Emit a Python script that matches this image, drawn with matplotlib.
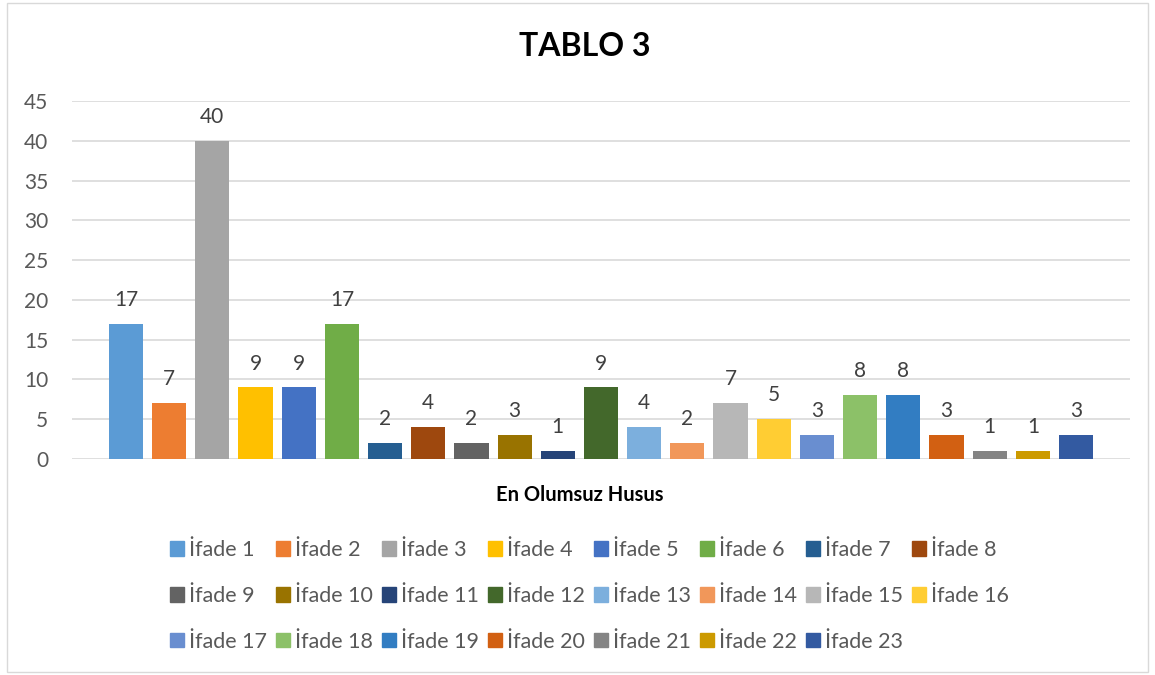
import numpy as np
import matplotlib
matplotlib.use('Agg')
from matplotlib import pyplot as plt
from matplotlib.patches import Patch, Rectangle

plt.rcParams['font.family'] = ['Lato', 'DejaVu Sans']

# data
labels = ['İfade %d' % i for i in range(1, 24)]
values = [17, 7, 40, 9, 9, 17, 2, 4, 2, 3, 1, 9, 4, 2, 7, 5, 3, 8, 8, 3, 1, 1, 3]
colors = ['#5B9BD5', '#ED7D31', '#A5A5A5', '#FFC000', '#4472C4', '#70AD47',
          '#255E91', '#9E480E', '#636363', '#997300', '#264478', '#43682B',
          '#7CAFDD', '#F1975A', '#B7B7B7', '#FFCD33', '#698ED0', '#8CC168',
          '#327DC2', '#D26012', '#848484', '#CC9A00', '#335AA1']
yticks = list(range(0, 50, 5))

W, H = 1155, 675
fig = plt.figure(figsize=(W/100, H/100), dpi=100)
ax = fig.add_axes([72/W, 1-459/H, (1130-72)/W, (459-101)/H])

x = np.arange(len(values))
ax.bar(x, values, width=0.79, color=colors, zorder=3)
for xi, v in zip(x, values):
    ax.annotate(str(v), (xi, v), xytext=(0, 10), textcoords='offset points',
                ha='center', va='bottom', fontsize=15, color='#404040')

ax.set_xlim(-1.25, len(values) + 0.25)
ax.set_ylim(0, 45)
ax.set_yticks(yticks)
ax.set_xticks([])
ax.grid(axis='y', color='#D9D9D9', linewidth=1.2, zorder=0)
for s in ax.spines.values():
    s.set_visible(False)
ax.tick_params(axis='y', length=0, pad=17, labelsize=15, labelcolor='#595959')

fig.text(585/W, 1-47/H, 'TABLO 3', ha='center', va='center', fontsize=23,
         fontweight='bold', color='black')
fig.text(580/W, 1-495/H, 'En Olumsuz Husus', ha='center', va='center',
         fontsize=14.5, fontweight='bold', color='black')

# legend: 8 columns, filled row by row like Excel
ncol = 8
order = [r*ncol + c for c in range(ncol) for r in range(3) if r*ncol + c < len(labels)]
handles = [Patch(color=colors[i], label=labels[i]) for i in order]
lg = fig.legend(handles=handles, loc='center left', ncol=ncol,
                bbox_to_anchor=(170/W, 1-596/H), frameon=False,
                fontsize=15.5, handlelength=0.65, handleheight=0.65,
                handletextpad=0.25, columnspacing=0.4, labelspacing=1.2,
                borderaxespad=0, borderpad=0)
for t in lg.get_texts():
    t.set_color('#595959')

fig.add_artist(Rectangle((7/W, 3/H), (1148-7)/W, (672-3)/H, transform=fig.transFigure,
                         fill=False, edgecolor='#D9D9D9', linewidth=1))

plt.savefig('out.png', dpi=100)
